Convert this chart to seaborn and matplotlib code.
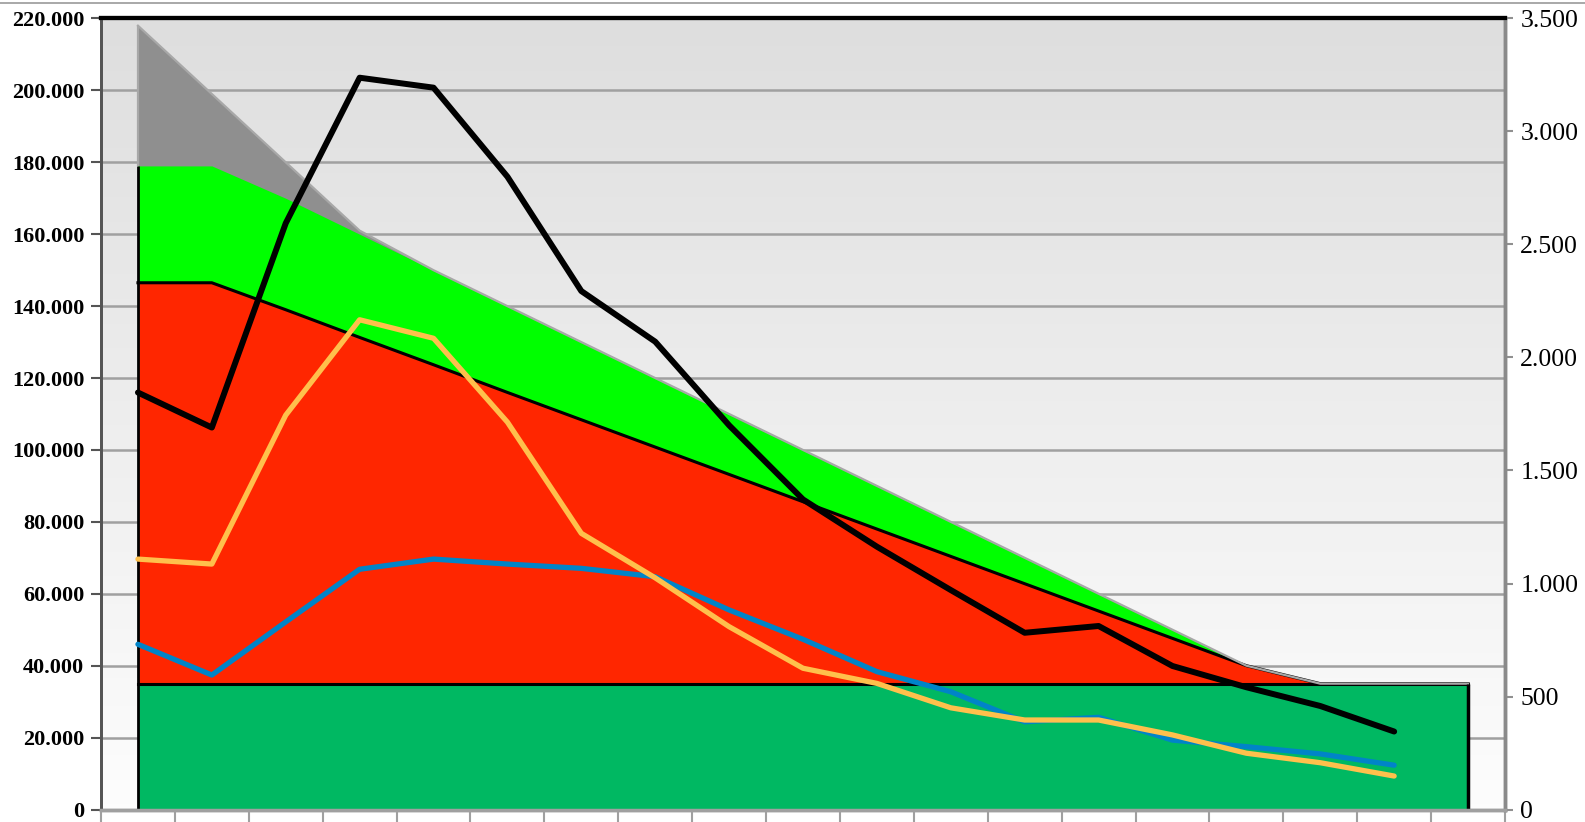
import numpy as np
import pandas as pd
import matplotlib
matplotlib.use("Agg")
import matplotlib.pyplot as plt
from matplotlib.lines import Line2D
from matplotlib.ticker import FuncFormatter
import seaborn as sns

# category positions (x labels are cut off in the source picture)
periods = list(range(19))

# area series, left axis
gray_top = [218000, 199000, 180000, 161000, 150000, 140000, 130000, 120000, 110000, 100000,
            90000, 80000, 70000, 60000, 50000, 40000, 35000, 35000, 35000]
green_top = [179000, 179000, 170000, 160000, 150000, 140000, 130000, 120000, 110000, 100000,
             90000, 80000, 70000, 60000, 50000, 40000, 35000, 35000, 35000]
red_top = [146500, 146500, 139000, 131300, 123700, 116000, 108400, 100800, 93200, 85600,
           78000, 70400, 62800, 55200, 47600, 40000, 35000, 35000, 35000]
base_top = [35000] * 19

# line series, right axis
black_line = [1845, 1690, 2594, 3238, 3194, 2800, 2294, 2070, 1700, 1372,
              1163, 971, 782, 812, 635, 541, 458, 345]
orange_line = [1108, 1086, 1745, 2167, 2085, 1714, 1222, 1025, 809, 625,
               558, 450, 396, 396, 330, 249, 207, 148]
blue_line = [731, 595, 830, 1063, 1108, 1086, 1067, 1030, 883, 753,
             610, 521, 388, 408, 307, 278, 246, 196]

plt.rcParams['font.family'] = ['Liberation Serif', 'DejaVu Serif']

fig = plt.figure(figsize=(15.85, 8.22), dpi=100)
ax = fig.add_axes([101 / 1585, 12.5 / 822, 1404 / 1585, 791 / 822])

# gradient plot background
grad = np.linspace(0, 1, 256).reshape(-1, 1)
ax.imshow(grad, cmap=matplotlib.colors.LinearSegmentedColormap.from_list(
    "bg", ["#dedede", "#fdfdfd"]), aspect="auto", extent=[0, 1, 0, 1],
    transform=ax.transAxes, zorder=0.1, interpolation="bilinear")

x = np.array(periods)
ax.fill_between(x, 0, gray_top, color="#8f8f8f", lw=0, zorder=2)
ax.fill_between(x, 0, green_top, color="#00ff00", lw=0, zorder=3)
ax.fill_between(x, 0, red_top, color="#ff2600", lw=0, zorder=4)
ax.fill_between(x, 0, base_top, color="#00b862", lw=0, zorder=5)

# area borders
ax.plot(x, red_top, color="black", lw=2.2, zorder=4.5)
ax.plot(x, base_top, color="black", lw=2.2, zorder=5.5)
ax.plot(x, gray_top, color="#a8a8a8", lw=1.6, zorder=6)
ax.vlines(x[0], green_top[0], gray_top[0], color="#a8a8a8", lw=1.6, zorder=6)
ax.vlines(x[0], 0, green_top[0], color="black", lw=2, zorder=6)
ax.vlines(x[-1], 0, base_top[-1], color="black", lw=2.5, zorder=6)

ax.set_xlim(-0.5, 18.5)
ax.set_ylim(0, 220000)
ax.set_yticks(range(0, 220001, 20000))
ax.yaxis.grid(True, color="#a0a0a0", lw=1.8)
ax.set_axisbelow(True)
ax.set_xticks(np.arange(-0.5, 18.6, 1))
ax.set_xticklabels([])
ax.tick_params(axis="x", length=14, width=1.5, color="#a0a0a0")
fmt = FuncFormatter(lambda v, p: f"{v:,.0f}".replace(",", "."))
ax.yaxis.set_major_formatter(fmt)
ax.tick_params(axis="y", length=7, width=1.5, color="#555555", pad=5,
               labelsize=16)
for lab in ax.get_yticklabels():
    lab.set_fontweight("bold")

ax2 = ax.twinx()
sns.lineplot(x=x[:18], y=blue_line, ax=ax2, color="#0084c8", lw=3.8,
             solid_capstyle="round")
sns.lineplot(x=x[:18], y=orange_line, ax=ax2, color="#ffc04c", lw=3.8,
             solid_capstyle="round")
sns.lineplot(x=x[:18], y=black_line, ax=ax2, color="black", lw=4.3,
             solid_capstyle="round")
ax2.set_ylim(0, 3500)
ax2.set_yticks(range(0, 3501, 500))
ax2.yaxis.set_major_formatter(fmt)
ax2.tick_params(axis="y", length=6, width=1.5, color="#909090", pad=5,
                labelsize=18.5)
ax2.set_ylabel("")

for a in (ax, ax2):
    a.spines["top"].set_color("black")
    a.spines["top"].set_linewidth(3)
    a.spines["left"].set_color("#555555")
    a.spines["left"].set_linewidth(2)
    a.spines["right"].set_color("#8a8a8a")
    a.spines["right"].set_linewidth(2.5)
    a.spines["bottom"].set_color("#a0a0a0")
    a.spines["bottom"].set_linewidth(2.5)

fig.add_artist(Line2D([0, 1], [1 - 3.5 / 822] * 2, color="#9a9a9a", lw=1.2,
                      transform=fig.transFigure))

fig.savefig("out.png", dpi=100, facecolor="white")
